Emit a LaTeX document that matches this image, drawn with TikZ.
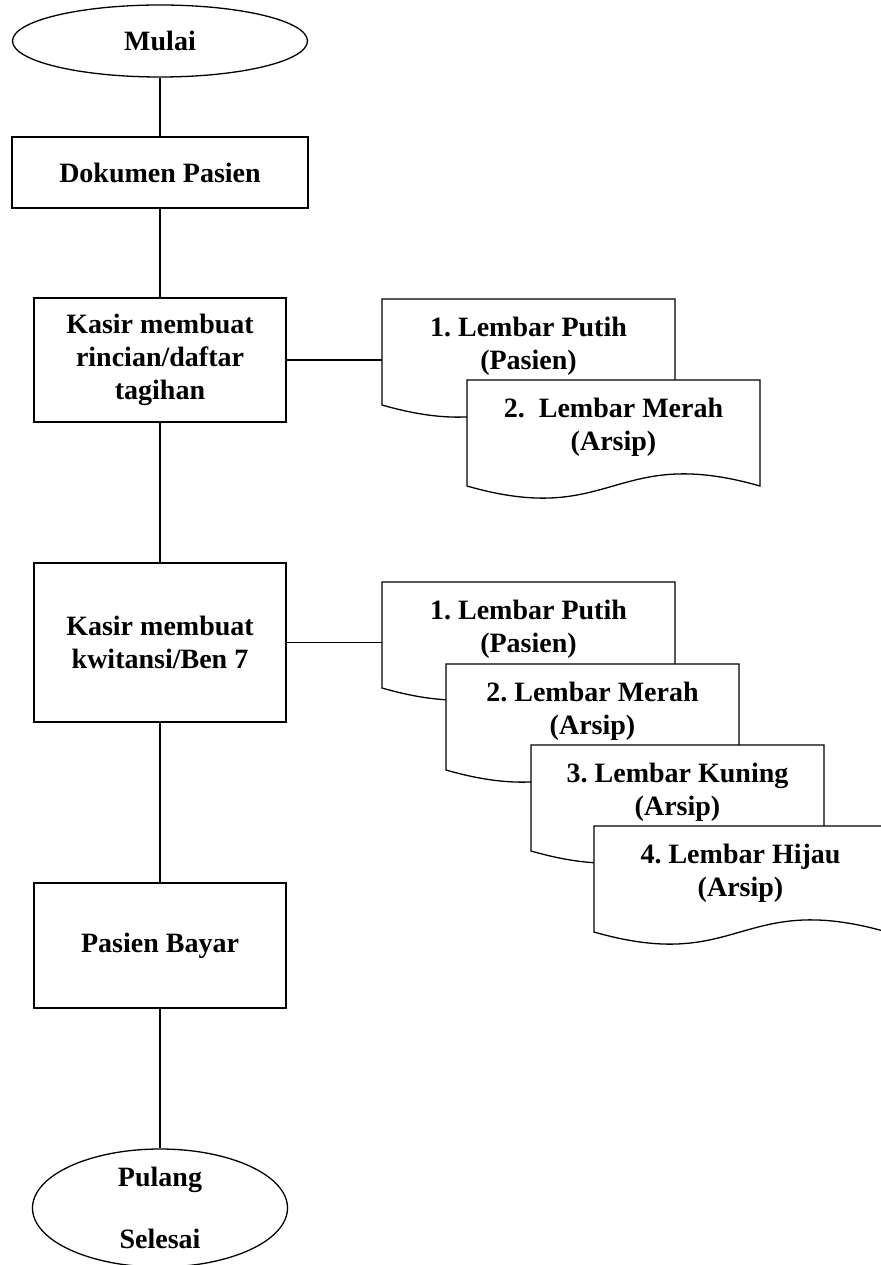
\documentclass[tikz,border=0pt]{standalone}
\usepackage{fontspec}
\setmainfont{Liberation Serif}
\usetikzlibrary{shapes.geometric,calc}
\frenchspacing
\newcommand{\docsheet}[4]{%
  \node[docframe] (#1) at (#2,#3) {};
  \draw[docline] (#1.south east) -- (#1.north east) -- (#1.north west) -- (#1.south west)
     .. controls ($(#1.south west)+(146,42)$) and ($(#1.south west)+(146,-42)$) .. (#1.south east) -- cycle;
  \node (#1t) at ($(#1.center)+(0,-5.5)$) {#4};
}
\begin{document}
\begin{tikzpicture}[x=1pt,y=-1pt,
  every node/.style={font=\fontsize{28}{33}\bfseries\selectfont, align=center},
  conn/.style={line width=1.3pt},
  procbox/.style={draw, line width=1.3pt, rectangle, inner sep=0pt, minimum width=252pt},
  term/.style={draw, ellipse, line width=1.3pt, inner sep=0pt},
  docframe/.style={rectangle, inner sep=0pt, outer sep=0pt, minimum width=293pt, minimum height=106pt},
  docline/.style={draw, fill=white, line width=1.3pt},
]
\useasboundingbox (0,0) rectangle (880,1265);

\node[term, minimum width=295pt, minimum height=72pt] (mulai) at (160,41) {Mulai};
\node[procbox, minimum width=296pt, minimum height=71pt] (dok) at (160,172.5) {Dokumen Pasien};
\node[procbox, minimum height=124pt] (rinc) at (160,360) {Kasir membuat\\rincian/daftar\\tagihan};
\node[procbox, minimum height=159pt] (kwit) at (160,642.5) {Kasir membuat\\kwitansi/Ben 7};
\node[procbox, minimum height=125pt] (bayar) at (160,945.5) {Pasien Bayar};
\node[term, minimum width=255pt, minimum height=118pt] (selesai) at (160,1208) {Pulang\\[29pt]Selesai};

\draw[conn] (mulai) -- (dok);
\draw[conn] (dok) -- (rinc);
\draw[conn] (rinc) -- (kwit);
\draw[conn] (kwit) -- (bayar);
\draw[conn] (bayar) -- (selesai);

\docsheet{d1}{528.5}{352}{1. Lembar Putih\\(Pasien)}
\docsheet{d2}{613.5}{433}{2.\ \ Lembar Merah\\(Arsip)}

\docsheet{dA}{528.5}{635}{1. Lembar Putih\\(Pasien)}
\docsheet{dB}{592.5}{717}{2. Lembar Merah\\(Arsip)}
\docsheet{dC}{677.5}{798}{3. Lembar Kuning\\(Arsip)}
\docsheet{dD}{740.5}{879}{4. Lembar Hijau\\(Arsip)}

\draw[conn] (rinc.east) -- (rinc.east -| d1.west);
\draw[conn] (kwit.east) -- (kwit.east -| dA.west);
\end{tikzpicture}
\end{document}
